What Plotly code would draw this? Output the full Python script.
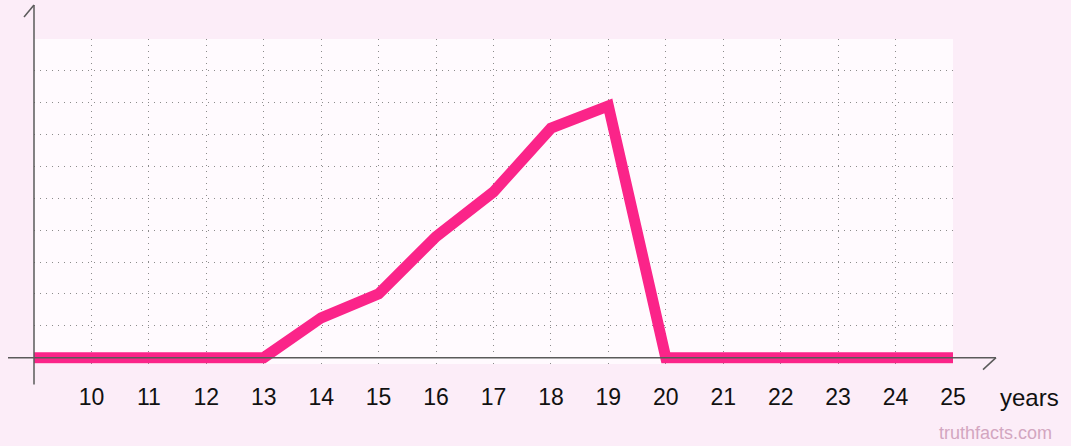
import plotly.graph_objects as go

years = [9, 10, 11, 12, 13, 14, 15, 16, 17, 18, 19, 20, 21, 22, 23, 24, 25]
values = [0, 0, 0, 0, 0, 1.25, 2.0, 3.8, 5.2, 7.2, 7.9, 0, 0, 0, 0, 0, 0]
tick_vals = list(range(9, 26))
tick_text = [""] + [str(v) for v in range(10, 26)]

PAPER = "#fcedf8"
PLOT = "#fffafe"
PINK = "#fb2489"
AXIS = "#5a5a5a"
GRID = "#8c8c8c"

fig = go.Figure()
fig.add_trace(go.Scatter(x=years, y=values, mode="lines",
                         line=dict(color=PINK, width=11), hoverinfo="skip"))

W, H = 1071, 446
L, R, T = 34, 953, 39
y0px = 358
ymin = -0.2
unit = (y0px - T) / 10.0
bottom_px = y0px - ymin * unit

fig.update_layout(
    width=W, height=H,
    margin=dict(l=L, r=W - R, t=T, b=H - bottom_px, pad=0),
    paper_bgcolor=PAPER, plot_bgcolor=PLOT,
    showlegend=False,
    font=dict(family="Liberation Sans, Arial, sans-serif", color="#111111", size=23),
    xaxis=dict(range=[9, 25], tickvals=tick_vals, ticktext=tick_text,
               showgrid=True, gridcolor=GRID, griddash="1px,5px", gridwidth=1,
               ticks="outside", ticklen=12, tickcolor="rgba(0,0,0,0)",
               showline=False, zeroline=False, fixedrange=True),
    yaxis=dict(range=[ymin, 10], tickvals=list(range(1, 11)), showticklabels=False,
               showgrid=True, gridcolor=GRID, griddash="1px,5px", gridwidth=1,
               ticks="", showline=False, zeroline=False, fixedrange=True),
)

pw = R - L
ph = bottom_px - T
def px(x):
    return (x - L) / pw
def py(y):
    return (bottom_px - y) / ph

lw = 1.5
shapes = [
    dict(type="line", xref="paper", yref="paper", x0=px(34), y0=py(385), x1=px(34), y1=py(5),
         line=dict(color=AXIS, width=lw)),
    dict(type="line", xref="paper", yref="paper", x0=px(34), y0=py(5), x1=px(24), y1=py(17),
         line=dict(color=AXIS, width=lw)),
    dict(type="line", xref="paper", yref="paper", x0=px(8), y0=py(358), x1=px(996), y1=py(358),
         line=dict(color=AXIS, width=lw)),
    dict(type="line", xref="paper", yref="paper", x0=px(996), y0=py(358), x1=px(983), y1=py(370),
         line=dict(color=AXIS, width=lw)),
]
fig.update_layout(shapes=shapes)

fig.add_annotation(x=px(1029), y=py(398), xref="paper", yref="paper", text="years",
                   showarrow=False, font=dict(size=24, color="#111111"),
                   xanchor="center", yanchor="middle")
fig.add_annotation(x=px(995), y=py(433), xref="paper", yref="paper", text="truthfacts.com",
                   showarrow=False, font=dict(size=18, color="#d3a6c0"),
                   xanchor="center", yanchor="middle")

fig.write_html("out.html", config={"displayModeBar": False},
               post_script="document.body.style.margin='0';")
